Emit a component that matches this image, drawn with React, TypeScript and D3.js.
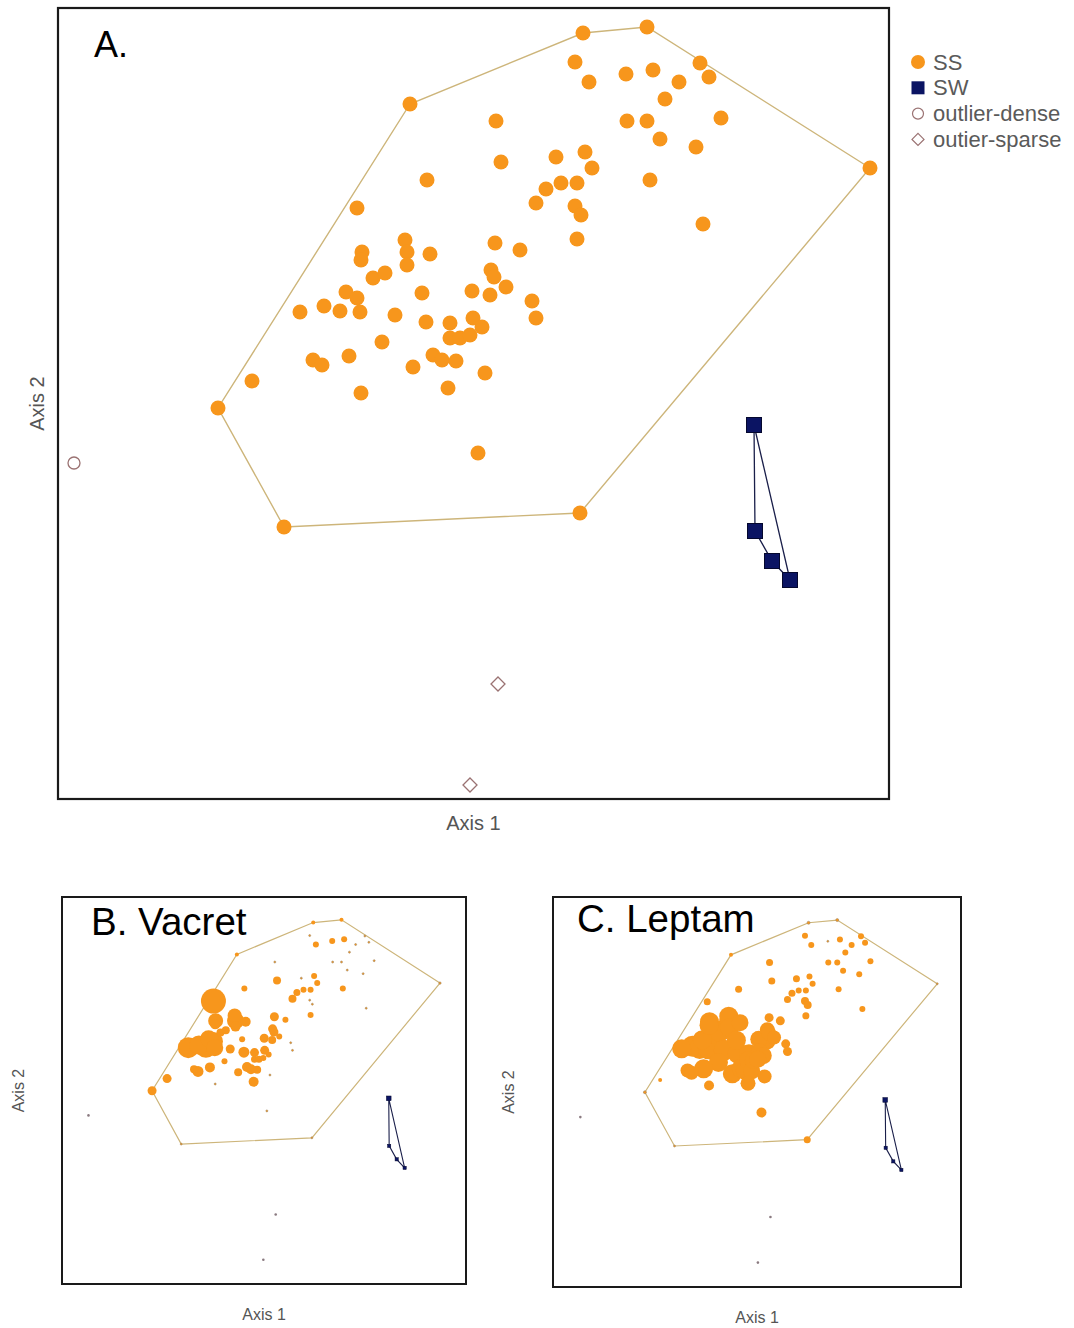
import React from 'react';
import * as d3 from 'd3';

// ---------- DATA ----------
// SS sites: ordination scores (Axis 1, Axis 2)
const ssAxis1 = [
  -0.64, 1.09, 1.73, 2.26, 3.96, 1.06, -1.90, -2.56, 2.35, 1.01,
  1.15, 1.52, 1.79, 2.05, 1.91, 1.53, 1.73, 2.47, 1.86, 2.22,
  0.82, 1.11, 1.18, 1.76, 0.87, 1.03, 0.72, 0.62, 1.01, 1.07,
  2.29, 1.03, 0.22, 0.27, -0.47, -1.17, -2.22, -1.74, -1.50, -1.34,
  -1.28, -1.17, -1.14, -1.12, -1.13, -1.01, -0.89, -0.69, -0.67, -0.67,
  -0.44, -0.52, -0.79, -0.48, -0.92, -1.61, -1.52, -1.25, -1.13, -0.61,
  -0.41, -0.32, -0.18, -0.26, 0.11, 0.21, 0.46, 0.17, 0.20, 0.16,
  0.32, -0.02, 0.58, 0.62, -0.24, -0.01, 0.08, -0.24, -0.14, -0.04,
  0.04,
];
const ssAxis2 = [
  3.00, 3.71, 3.77, 3.41, 2.36, -1.09, -1.23, -0.04, 3.27, 3.42,
  3.22, 3.30, 3.34, 3.22, 3.05, 2.83, 2.83, 2.86, 2.65, 2.57,
  2.47, 2.52, 2.36, 2.24, 2.21, 2.21, 2.15, 2.01, 1.98, 1.89,
  1.80, 1.65, 2.83, 2.42, 2.24, 1.96, 0.23, 0.92, 0.98, 0.93,
  1.12, 1.06, 0.92, 1.52, 1.44, 1.26, 1.31, 1.64, 1.52, 1.39,
  1.50, 1.11, 0.89, 0.82, 0.62, 0.44, 0.39, 0.48, 0.11, 0.37,
  0.49, 0.44, 0.43, 0.16, 0.31, 1.61, 1.54, 1.34, 1.27, 1.09,
  1.17, 1.13, 1.03, 0.86, 0.81, 0.86, 0.77, 0.66, 0.66, 0.69,
  -0.49,
];
// Species abundance symbol sizes (radius) per SS site
const vacretSize = [
  2, 2, 2, 1, 1.2, 1, 1, 4.5, 1, 1,
  3, 3, 3, 1, 1, 1, 1, 1, 1, 1,
  1, 3, 3, 3, 3, 3, 3.5, 4, 1, 1,
  1, 3, 1, 4, 3, 12.5, 4.5, 10.5, 9.5, 10.5,
  8.5, 9.5, 8.5, 7.5, 5, 4, 4, 7, 8.5, 5,
  5, 3, 4.5, 5.5, 3, 4, 5.5, 5, 1, 4,
  5, 5, 4, 5, 1, 4.5, 3, 4.5, 4.5, 4,
  3, 4.5, 1, 1, 4.5, 4.5, 3, 3.5, 3.5, 3,
  1,
];
const leptamSize = [
  2, 1.5, 1.5, 3, 1, 3.5, 1, 1.5, 3, 3,
  3, 1, 3, 3, 3, 3, 3, 3, 3, 3,
  3.5, 3, 3, 3, 3, 3, 3.5, 3.5, 4, 4,
  3, 3.5, 3.5, 3.5, 3.5, 3.5, 2, 9.5, 10.5, 10.5,
  9.5, 10.5, 10.5, 9.5, 9.5, 10.5, 10.5, 9.5, 10.5, 9.5,
  8.5, 9.5, 10.5, 10.5, 9.5, 7, 7, 9.5, 5, 9.5,
  9.5, 9.5, 8.5, 7.5, 7, 4.5, 4.5, 7.5, 7.5, 8.5,
  7, 8.5, 4.5, 4.5, 9.5, 8.5, 8.5, 9.5, 8.5, 8.5,
  5,
];
// SW sites
const swAxis1 = [2.80, 2.81, 2.98, 3.16];
const swAxis2 = [-0.21, -1.27, -1.57, -1.76];
// outliers
const denseAxis1 = [-4.0];
const denseAxis2 = [-0.59];
const sparseAxis1 = [0.24, -0.04];
const sparseAxis2 = [-2.8, -3.81];

const legendLabels = ['SS', 'SW', 'outlier-dense', 'outier-sparse'];

// ---------- STYLE ----------
const ORANGE = '#f7961c';
const NAVY = '#0b1463';
const HULL_SS = '#cdb57a';
const HULL_SW = '#1a1f4a';
const OUT_COL = '#9a7272';
const FONT = 'Liberation Sans, Arial, sans-serif';

type Box = { x0: number; x1: number; y0: number; y1: number };

interface PanelProps {
  box: Box;
  xDom: [number, number];
  yDom: [number, number];
  sizes: number[] | null;
  title: string;
  titleX: number;
  titleY: number;
  titleSize: number;
  axisFont: number;
  axis1Y: number;
  axis2X: number;
}

function Panel(p: PanelProps) {
  const { box, xDom, yDom, sizes } = p;
  const x = d3.scaleLinear().domain(xDom).range([box.x0, box.x1]);
  const y = d3.scaleLinear().domain(yDom).range([box.y1, box.y0]);
  const big = sizes === null;

  const ssPts: [number, number][] = ssAxis1.map((a, i) => [x(a), y(ssAxis2[i])]);
  const ssHull = d3.polygonHull(ssPts) || [];
  const swPts: [number, number][] = swAxis1.map((a, i) => [x(a), y(swAxis2[i])]);
  const swHull = d3.polygonHull(swPts) || [];
  const line = d3.line().curve(d3.curveLinearClosed);

  const order = ssPts.map((_, i) => i);
  if (sizes) order.sort((a, b) => sizes[b] - sizes[a]);

  const swSize = big ? 15 : 3.2;
  const cx = (box.x0 + box.x1) / 2;
  const cy = (box.y0 + box.y1) / 2;

  return (
    <g>
      <rect
        x={box.x0}
        y={box.y0}
        width={box.x1 - box.x0}
        height={box.y1 - box.y0}
        fill="#fff"
        stroke="#1a1a1a"
        strokeWidth={big ? 2.2 : 2}
      />
      <path d={line(ssHull as [number, number][]) || ''} fill="none" stroke={HULL_SS} strokeWidth={big ? 1.4 : 1.2} />
      {order.map((i) => {
        const r = sizes ? sizes[i] : 7.5;
        const small = !big && r <= 1.5;
        return (
          <circle
            key={i}
            cx={ssPts[i][0]}
            cy={ssPts[i][1]}
            r={r}
            fill={ORANGE}
            stroke={small ? '#a08a6a' : 'none'}
            strokeWidth={small ? 0.6 : 0}
          />
        );
      })}
      <path d={line(swHull as [number, number][]) || ''} fill="none" stroke={HULL_SW} strokeWidth={big ? 1.3 : 1.1} />
      {swPts.map((pt, i) => {
        const s = !big && i === 0 ? swSize + 1.5 : swSize;
        return (
          <rect
            key={i}
            x={pt[0] - s / 2}
            y={pt[1] - s / 2}
            width={s}
            height={s}
            fill={NAVY}
            stroke="#05082e"
            strokeWidth={big ? 1 : 0.5}
          />
        );
      })}
      {denseAxis1.map((a, i) =>
        big ? (
          <circle key={i} cx={x(a)} cy={y(denseAxis2[i])} r={6} fill="#fff" stroke={OUT_COL} strokeWidth={1.3} />
        ) : (
          <circle key={i} cx={x(a)} cy={y(denseAxis2[i])} r={1.3} fill="#8a7a80" />
        )
      )}
      {sparseAxis1.map((a, i) => {
        const px = x(a);
        const py = y(sparseAxis2[i]);
        if (!big) return <circle key={i} cx={px} cy={py} r={1.3} fill="#8a7a80" />;
        const d = 7;
        return (
          <path
            key={i}
            d={`M${px},${py - d}L${px + d},${py}L${px},${py + d}L${px - d},${py}Z`}
            fill="#fff"
            stroke={OUT_COL}
            strokeWidth={1.3}
          />
        );
      })}
      <text x={p.titleX} y={p.titleY} fontSize={p.titleSize} fontFamily={FONT} fill="#000">
        {p.title}
      </text>
      <text x={cx} y={p.axis1Y} fontSize={p.axisFont} fontFamily={FONT} fill="#555" textAnchor="middle">
        Axis 1
      </text>
      <text
        x={p.axis2X}
        y={cy}
        fontSize={p.axisFont}
        fontFamily={FONT}
        fill="#555"
        textAnchor="middle"
        transform={`rotate(-90, ${p.axis2X}, ${cy})`}
      >
        Axis 2
      </text>
    </g>
  );
}

function Legend() {
  const lx = 918;
  const ly0 = 62;
  const dy = 25.8;
  return (
    <g fontFamily={FONT} fontSize={22} fill="#5a5a5a">
      {legendLabels.map((lab, i) => {
        const cy = ly0 + i * dy;
        let sym: React.ReactNode = null;
        if (i === 0) sym = <circle cx={lx} cy={cy} r={7} fill={ORANGE} />;
        if (i === 1) sym = <rect x={lx - 6.5} y={cy - 6.5} width={13} height={13} fill={NAVY} />;
        if (i === 2) sym = <circle cx={lx} cy={cy} r={5.5} fill="#fff" stroke={OUT_COL} strokeWidth={1.2} />;
        if (i === 3)
          sym = (
            <path
              d={`M${lx},${cy - 6}L${lx + 6},${cy}L${lx},${cy + 6}L${lx - 6},${cy}Z`}
              fill="#fff"
              stroke={OUT_COL}
              strokeWidth={1.2}
            />
          );
        return (
          <g key={lab}>
            {sym}
            <text x={lx + 15} y={cy + 7.5}>
              {lab}
            </text>
          </g>
        );
      })}
    </g>
  );
}

export default function App() {
  return (
    <svg
      width={1074}
      height={1328}
      style={{ position: 'absolute', left: 0, top: 0, background: '#fff' }}
    >
      <rect x={0} y={0} width={1074} height={1328} fill="#fff" />
      <Panel
        box={{ x0: 58, x1: 889, y0: 8, y1: 799 }}
        xDom={[-4.16, 4.15]}
        yDom={[-3.95, 3.96]}
        sizes={null}
        title="A."
        titleX={94}
        titleY={57}
        titleSize={36}
        axisFont={20}
        axis1Y={830}
        axis2X={44}
      />
      <Legend />
      <Panel
        box={{ x0: 62, x1: 466, y0: 897, y1: 1284 }}
        xDom={[-4.6, 4.55]}
        yDom={[-4.35, 4.28]}
        sizes={vacretSize}
        title="B. Vacret"
        titleX={91}
        titleY={935}
        titleSize={38.5}
        axisFont={16}
        axis1Y={1320}
        axis2X={24}
      />
      <Panel
        box={{ x0: 553, x1: 961, y0: 897, y1: 1287 }}
        xDom={[-4.61, 4.49]}
        yDom={[-4.35, 4.28]}
        sizes={leptamSize}
        title="C. Leptam"
        titleX={577}
        titleY={932}
        titleSize={38.5}
        axisFont={16}
        axis1Y={1323}
        axis2X={514}
      />
    </svg>
  );
}
